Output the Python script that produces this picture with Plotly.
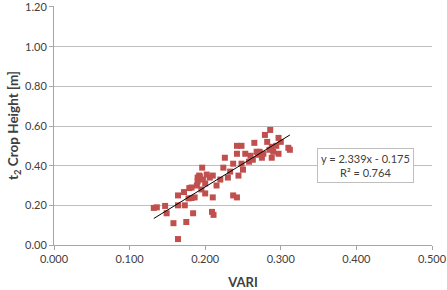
import plotly.graph_objects as go

vari = [0.132, 0.136, 0.147, 0.149, 0.158, 0.164, 0.164, 0.175, 0.184, 0.164,
        0.172, 0.179, 0.182, 0.189, 0.190, 0.196, 0.192, 0.197, 0.190, 0.182,
        0.210, 0.206, 0.200, 0.186, 0.210, 0.209, 0.211, 0.224, 0.226, 0.237,
        0.237, 0.242, 0.242, 0.242, 0.233, 0.279, 0.286, 0.297, 0.310, 0.312,
        0.248, 0.265, 0.253, 0.260, 0.268, 0.288, 0.290, 0.297, 0.288, 0.263,
        0.248, 0.250, 0.244, 0.277, 0.272, 0.282, 0.270, 0.275, 0.258, 0.200,
        0.195, 0.215, 0.220, 0.230, 0.193, 0.202, 0.178, 0.173, 0.300, 0.294,
        0.285]
height = [0.187, 0.190, 0.197, 0.160, 0.110, 0.030, 0.200, 0.116, 0.160, 0.250,
          0.267, 0.287, 0.237, 0.300, 0.340, 0.390, 0.350, 0.330, 0.320, 0.290,
          0.350, 0.340, 0.260, 0.240, 0.240, 0.167, 0.152, 0.390, 0.440, 0.410,
          0.250, 0.240, 0.500, 0.460, 0.370, 0.555, 0.580, 0.540, 0.490, 0.480,
          0.500, 0.515, 0.460, 0.450, 0.470, 0.495, 0.470, 0.460, 0.440, 0.430,
          0.410, 0.380, 0.350, 0.460, 0.470, 0.520, 0.455, 0.440, 0.420, 0.310,
          0.280, 0.300, 0.330, 0.340, 0.345, 0.355, 0.235, 0.200, 0.520, 0.500,
          0.480]

slope = 2.339
intercept = -0.175
r2 = 0.764

x_ticks = [0.0, 0.1, 0.2, 0.3, 0.4, 0.5]
y_ticks = [0.0, 0.2, 0.4, 0.6, 0.8, 1.0, 1.2]

xmin, xmax = min(vari), max(vari)
FONT = "Lato, Open Sans, sans-serif"

fig = go.Figure()
fig.add_trace(go.Scatter(
    x=vari, y=height, mode="markers",
    marker=dict(symbol="square", size=6, color="#C0504D"),
    showlegend=False, hoverinfo="skip"))
fig.add_trace(go.Scatter(
    x=[xmin, xmax], y=[slope * xmin + intercept, slope * xmax + intercept],
    mode="lines", line=dict(color="black", width=1),
    showlegend=False, hoverinfo="skip"))

fig.add_annotation(
    x=0.412, y=0.40, xref="x", yref="y",
    text=f"y = {slope:.3f}x - {abs(intercept):.3f}<br>R² = {r2:.3f}",
    showarrow=False, align="center",
    font=dict(family=FONT, size=11, color="#404040"),
    bgcolor="white", bordercolor="#BFBFBF", borderwidth=1, borderpad=3)

tickfont = dict(family=FONT, size=11, color="#404040")
fig.update_xaxes(
    range=[0, 0.5], tickvals=x_ticks, tickformat=".3f",
    showgrid=False, zeroline=False,
    showline=True, linecolor="#A6A6A6", linewidth=1,
    ticks="outside", ticklen=4, tickcolor="#A6A6A6",
    tickfont=tickfont, automargin=False, ticklabeloverflow="allow",
    title=dict(text="<b>VARI</b>", font=dict(family=FONT, size=13, color="#404040"), standoff=22))
fig.update_yaxes(
    range=[0, 1.205], tickvals=y_ticks, tickformat=".2f",
    showgrid=True, gridcolor="#BFBFBF", gridwidth=1, zeroline=False,
    showline=True, linecolor="#A6A6A6", linewidth=1,
    ticks="outside", ticklen=4, tickcolor="#A6A6A6",
    tickfont=tickfont, automargin=False, ticklabeloverflow="allow",
    title=dict(text="<b>t<sub>2</sub> Crop Height [m]</b>", font=dict(family=FONT, size=13.5, color="#404040"), standoff=3))

fig.update_layout(
    width=447, height=290,
    margin=dict(l=54, r=15, t=6, b=45),
    paper_bgcolor="white", plot_bgcolor="white")

fig.write_html("out.html")
